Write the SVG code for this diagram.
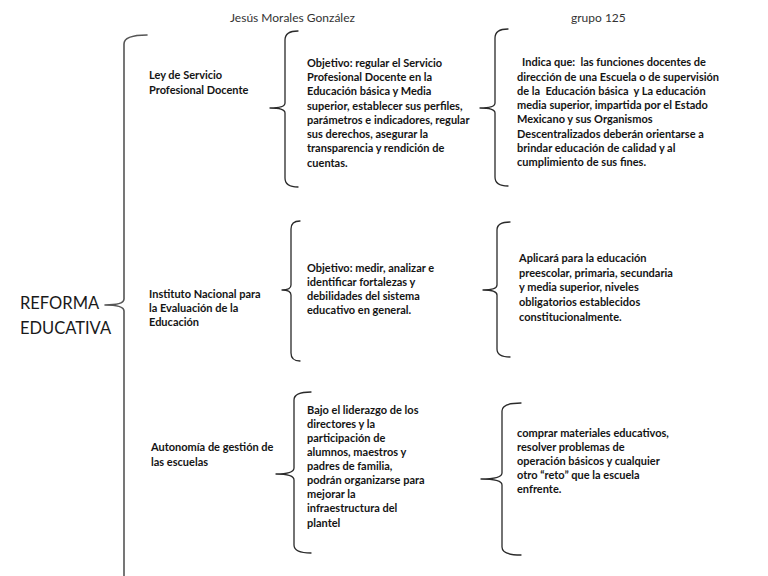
<svg xmlns="http://www.w3.org/2000/svg" width="768" height="576" viewBox="0 0 768 576">
<style>
.bg{fill:#ffffff}
.brace{fill:none;stroke:#2a2a2a;stroke-width:1.3;stroke-linecap:round;stroke-linejoin:round}
.main{stroke:#555555;stroke-width:1.6}
.t{font-family:Lato,"Liberation Sans",sans-serif;font-size:11px;font-weight:bold;fill:#141414;white-space:pre}
.h{font-family:Lato,"Liberation Sans",sans-serif;font-size:12px;fill:#333333}
.title{font-family:Lato,"Liberation Sans",sans-serif;font-size:16.5px;fill:#1a1a1a}
</style>
<rect class="bg" width="768" height="576"/>
<g id="header">
<text class="h" x="230" y="22">Jesús Morales González</text>
<text class="h" x="571" y="22">grupo 125</text>
</g>
<g id="connectors">
<path class="brace main" d="M147,35 Q124,35 124,44 L124,299 Q124,305 105,305 Q124,305 124,311 L124,580"/>
<path class="brace" d="M298,31 Q285,31 285,40 L285,103 Q285,108 270,108 Q285,108 285,113 L285,178 Q285,187 298,187"/>
<path class="brace" d="M508,29 Q495,29 495,38 L495,103 Q495,108 480,108 Q495,108 495,113 L495,177 Q495,186 508,186"/>
<path class="brace" d="M300,221 Q291,221 291,229 L291,285 Q291,290 282,290 Q291,290 291,295 L291,353 Q291,361 300,361"/>
<path class="brace" d="M510,222 Q497,222 497,230 L497,285 Q497,290 483,290 Q497,290 497,295 L497,349 Q497,357 510,357"/>
<path class="brace" d="M311,392 Q294,392 294,400 L294,468 Q294,474 276,474 Q294,474 294,480 L294,545 Q294,553 311,553"/>
<path class="brace" d="M521,403 Q502,403 502,411 L502,473 Q502,479 481,479 Q502,479 502,485 L502,547 Q502,555 521,555"/>
</g>
<g id="root">
<text class="title" x="20" y="309">REFORMA</text>
<text class="title" x="20" y="334">EDUCATIVA</text>
</g>
<g id="ley">
<text class="t" x="149" y="79">Ley de Servicio</text>
<text class="t" x="149" y="94">Profesional Docente</text>
</g>
<g id="ley-objetivo">
<text class="t" x="307" y="67">Objetivo: regular el Servicio</text>
<text class="t" x="307" y="81">Profesional Docente en la</text>
<text class="t" x="307" y="95">Educación básica y Media</text>
<text class="t" x="307" y="110">superior, establecer sus perfiles,</text>
<text class="t" x="307" y="124">parámetros e indicadores, regular</text>
<text class="t" x="307" y="138">sus derechos, asegurar la</text>
<text class="t" x="307" y="152">transparencia y rendición de</text>
<text class="t" x="307" y="167">cuentas.</text>
</g>
<g id="ley-indica">
<text class="t" x="522" y="66">Indica que:  las funciones docentes de</text>
<text class="t" x="517" y="81">dirección de una Escuela o de supervisión</text>
<text class="t" x="517" y="95">de la  Educación básica  y La educación</text>
<text class="t" x="517" y="109">media superior, impartida por el Estado</text>
<text class="t" x="517" y="123">Mexicano y sus Organismos</text>
<text class="t" x="517" y="138">Descentralizados deberán orientarse a</text>
<text class="t" x="517" y="152">brindar educación de calidad y al</text>
<text class="t" x="517" y="166">cumplimiento de sus fines.</text>
</g>
<g id="inee">
<text class="t" x="149" y="298">Instituto Nacional para</text>
<text class="t" x="149" y="312">la Evaluación de la</text>
<text class="t" x="149" y="326">Educación</text>
</g>
<g id="inee-objetivo">
<text class="t" x="307" y="272">Objetivo: medir, analizar e</text>
<text class="t" x="307" y="286">identificar fortalezas y</text>
<text class="t" x="307" y="300">debilidades del sistema</text>
<text class="t" x="307" y="314">educativo en general.</text>
</g>
<g id="inee-aplica">
<text class="t" x="519" y="262">Aplicará para la educación</text>
<text class="t" x="519" y="277">preescolar, primaria, secundaria</text>
<text class="t" x="519" y="291">y media superior, niveles</text>
<text class="t" x="519" y="306">obligatorios establecidos</text>
<text class="t" x="519" y="321">constitucionalmente.</text>
</g>
<g id="autonomia">
<text class="t" x="151" y="451">Autonomía de gestión de</text>
<text class="t" x="151" y="466">las escuelas</text>
</g>
<g id="autonomia-bajo">
<text class="t" x="307" y="414">Bajo el liderazgo de los</text>
<text class="t" x="307" y="428">directores y la</text>
<text class="t" x="307" y="442">participación de</text>
<text class="t" x="307" y="456">alumnos, maestros y</text>
<text class="t" x="307" y="470">padres de familia,</text>
<text class="t" x="307" y="484">podrán organizarse para</text>
<text class="t" x="307" y="498">mejorar la</text>
<text class="t" x="307" y="512">infraestructura del</text>
<text class="t" x="307" y="527">plantel</text>
</g>
<g id="autonomia-comprar">
<text class="t" x="517" y="437">comprar materiales educativos,</text>
<text class="t" x="517" y="451">resolver problemas de</text>
<text class="t" x="517" y="465">operación básicos y cualquier</text>
<text class="t" x="517" y="479">otro “reto” que la escuela</text>
<text class="t" x="517" y="493">enfrente.</text>
</g>
</svg>
